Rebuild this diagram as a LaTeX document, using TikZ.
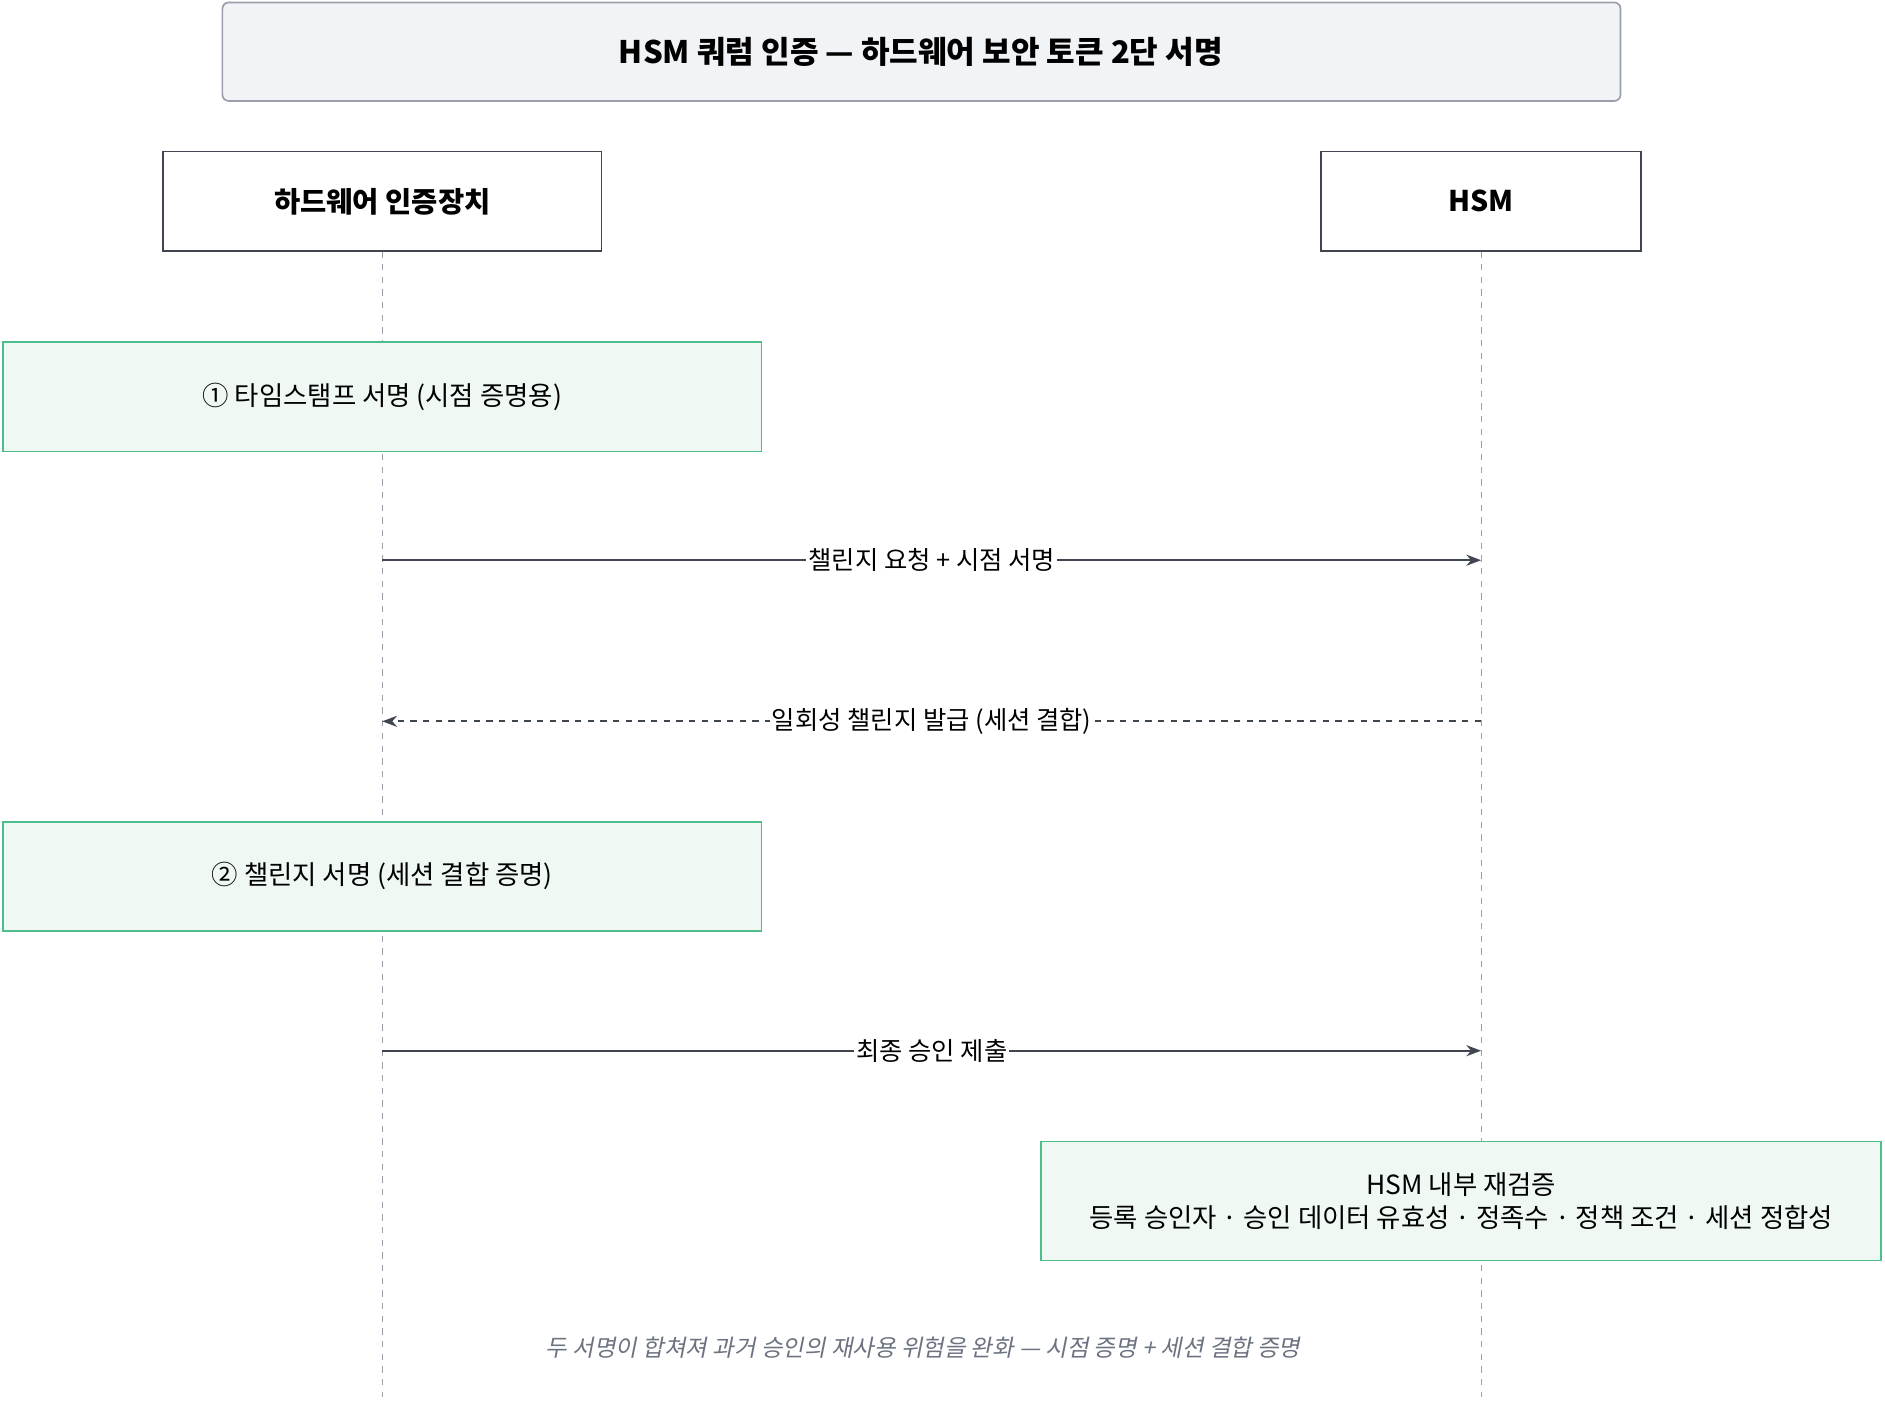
\documentclass[tikz,border=0pt]{standalone}
\usepackage{fontspec}
\setmainfont{Noto Sans CJK KR}
\newfontfamily\slantfont[FakeSlant=0.2]{Noto Sans CJK KR}
\usetikzlibrary{positioning,arrows.meta}
\definecolor{lineclr}{HTML}{3F4650}
\definecolor{lifeclr}{HTML}{9AA0AA}
\definecolor{titlefill}{HTML}{F1F4F7}
\definecolor{notefill}{HTML}{EFF8F3}
\definecolor{noteline}{HTML}{4DBE8A}
\definecolor{footclr}{HTML}{6B7280}
\tikzset{
  actor/.style={draw=lineclr,fill=white,thick,font=\bfseries\fontsize{13.5}{16}\selectfont},
  note/.style={draw=noteline,fill=notefill,thick,font=\fontsize{12.5}{15.5}\selectfont,align=center},
  msg/.style={-{Stealth[length=7pt]},draw=lineclr,thick},
  reply/.style={msg,dashed},
  msglabel/.style={fill=white,inner sep=1pt,font=\fontsize{12}{14}\selectfont},
  life/.style={draw=lifeclr,dashed,thin}
}
\begin{document}
\begin{tikzpicture}[x=0.02cm,y=-0.02cm]
\useasboundingbox (0,0) rectangle (1568,1170);
%title
\draw[draw=lifeclr,fill=titlefill,thick,rounded corners=3pt](185,2)rectangle(1348,84);
\node[font=\bfseries\fontsize{14.7}{17}\selectfont](title)at(766,43){HSM 쿼럼 인증 — 하드웨어 보안 토큰 2단 서명};
%actors
\coordinate(devtop)at(318,209);
\coordinate(hsmtop)at(1232,209);
\coordinate(devbot)at(318,1162);
\coordinate(hsmbot)at(1232,1162);
\draw[life](devtop)--(devbot);
\draw[life](hsmtop)--(hsmbot);
\node[actor,minimum width=7.3cm,minimum height=1.66cm](dev)at(318,167.5){하드웨어 인증장치};
\node[actor,minimum width=5.32cm,minimum height=1.66cm](hsm)at(1232,167.5){HSM};
%notes
\node[note,minimum width=12.62cm,minimum height=1.82cm](tsign)at(318,330){① 타임스탬프 서명 (시점 증명용)};
\node[note,minimum width=12.62cm,minimum height=1.82cm](csign)at(318,729){② 챌린지 서명 (세션 결합 증명)};
\node[note,minimum width=13.98cm,minimum height=1.98cm](verify)at(1215.5,999){HSM 내부 재검증\\등록 승인자 · 승인 데이터 유효성 · 정족수 · 정책 조건 · 세션 정합성};
%messages
\coordinate(m1a)at(318,466);\coordinate(m1b)at(1232,466);
\coordinate(m2a)at(1232,600);\coordinate(m2b)at(318,600);
\coordinate(m3a)at(318,874);\coordinate(m3b)at(1232,874);
\draw[msg](m1a)--node[msglabel]{챌린지 요청 + 시점 서명}(m1b);
\draw[reply](m2a)--node[msglabel]{일회성 챌린지 발급 (세션 결합)}(m2b);
\draw[msg](m3a)--node[msglabel]{최종 승인 제출}(m3b);
%footer
\node[text=footclr,font=\slantfont\fontsize{11.1}{13}\selectfont](foot)at(768,1121){두 서명이 합쳐져 과거 승인의 재사용 위험을 완화 — 시점 증명 + 세션 결합 증명};
\end{tikzpicture}
\end{document}
